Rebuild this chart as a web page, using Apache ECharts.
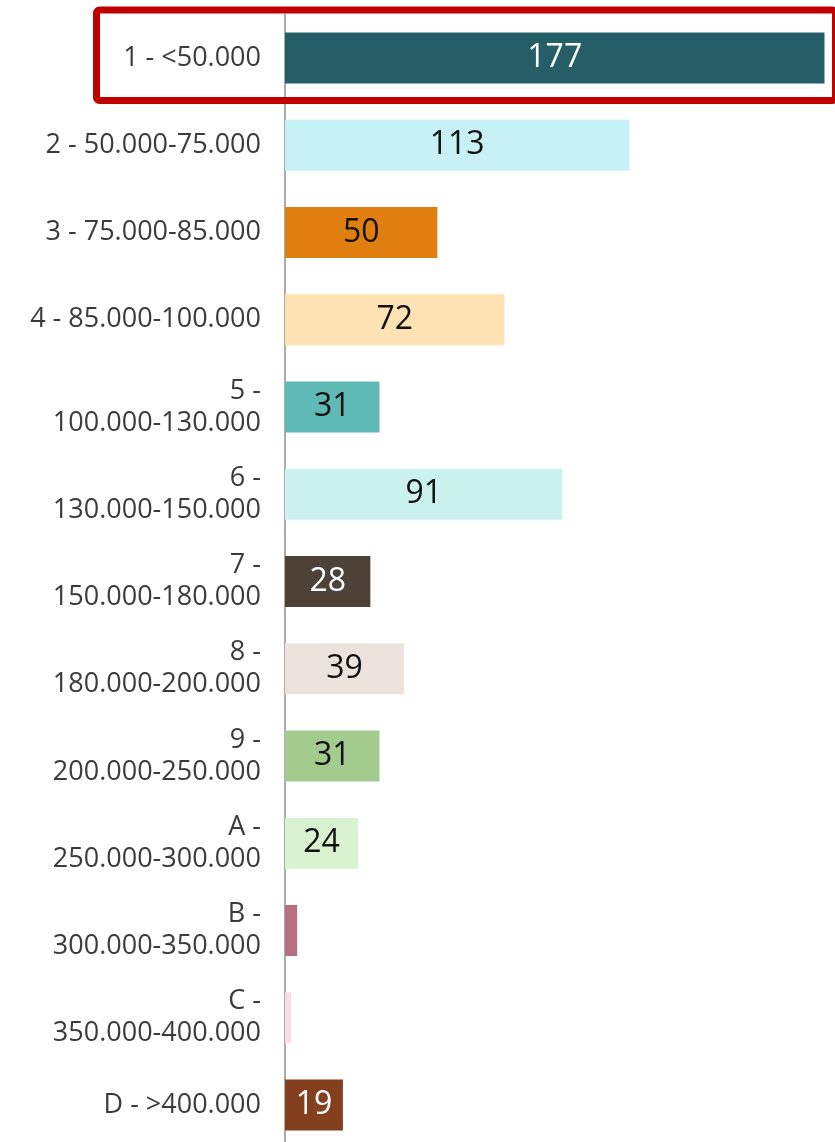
<!DOCTYPE html>
<html>
<head>
<meta charset="utf-8">
<title>Income bands</title>
<script src="https://cdn.jsdelivr.net/npm/echarts@6/dist/echarts.min.js"></script>
<style>
  html, body { margin: 0; padding: 0; background: #fff; overflow: hidden; }
  /* the last band runs a few pixels past the bottom of the page */
  #chart { width: 835px; height: 1150px; }
</style>
</head>
<body>
<div id="chart"></div>
<script>
// Income bands, top to bottom
const categories = [
  '1 - <50.000',
  '2 - 50.000-75.000',
  '3 - 75.000-85.000',
  '4 - 85.000-100.000',
  '5 -\n100.000-130.000',
  '6 -\n130.000-150.000',
  '7 -\n150.000-180.000',
  '8 -\n180.000-200.000',
  '9 -\n200.000-250.000',
  'A -\n250.000-300.000',
  'B -\n300.000-350.000',
  'C -\n350.000-400.000',
  'D - >400.000'
];

// Count per band
const counts = [177, 113, 50, 72, 31, 91, 28, 39, 31, 24, 4, 2, 19];

// Whether the count is printed inside the bar (too-narrow bars stay unlabeled)
const showValue = [true, true, true, true, true, true, true, true, true, true, false, false, true];

// One fill per band, and the matching text colour for its value label
const barColors = [
  '#255E67', '#C8F1F6', '#E07F10', '#FFE2B4', '#5FB9B5', '#CCF2F0', '#4E4238',
  '#EEE3DC', '#A3CB8E', '#D9F2D0', '#B77082', '#FADCE6', '#843F1F'
];
const valueTextColors = [
  '#ffffff', '#111111', '#111111', '#111111', '#111111', '#111111', '#ffffff',
  '#111111', '#111111', '#111111', '#111111', '#111111', '#ffffff'
];

const FONT = '"Open Sans", "Noto Sans", sans-serif';

const chart = echarts.init(document.getElementById('chart'), null, { renderer: 'canvas' });

const data = counts.map((v, i) => ({
  value: v,
  itemStyle: { color: barColors[i] },
  label: { show: showValue[i], color: valueTextColors[i] }
}));

chart.setOption({
  animation: false,
  backgroundColor: '#ffffff',
  grid: { left: 285, right: 10.5, top: 14.4, height: 1134.25, containLabel: false },
  xAxis: {
    type: 'value',
    min: 0,
    max: 177,
    show: false
  },
  yAxis: {
    type: 'category',
    data: categories,
    inverse: true,
    axisLine: { show: true, lineStyle: { color: '#ababab', width: 2 } },
    axisTick: { show: false },
    splitLine: { show: false },
    axisLabel: {
      margin: 24,
      color: '#3b3b3b',
      fontFamily: FONT,
      fontSize: 27,
      lineHeight: 32,
      align: 'right'
    }
  },
  series: [{
    type: 'bar',
    data: data,
    barWidth: 51,
    label: {
      position: 'inside',
      fontFamily: FONT,
      fontSize: 32,
      formatter: p => String(p.value)
    }
  }],
  // Highlight frame around the top band
  graphic: [{
    type: 'rect',
    z: 100,
    shape: { x: 96.5, y: 10, width: 739, height: 90.5, r: 3 },
    style: { fill: 'none', stroke: '#C00000', lineWidth: 7 }
  }]
});
</script>
</body>
</html>
